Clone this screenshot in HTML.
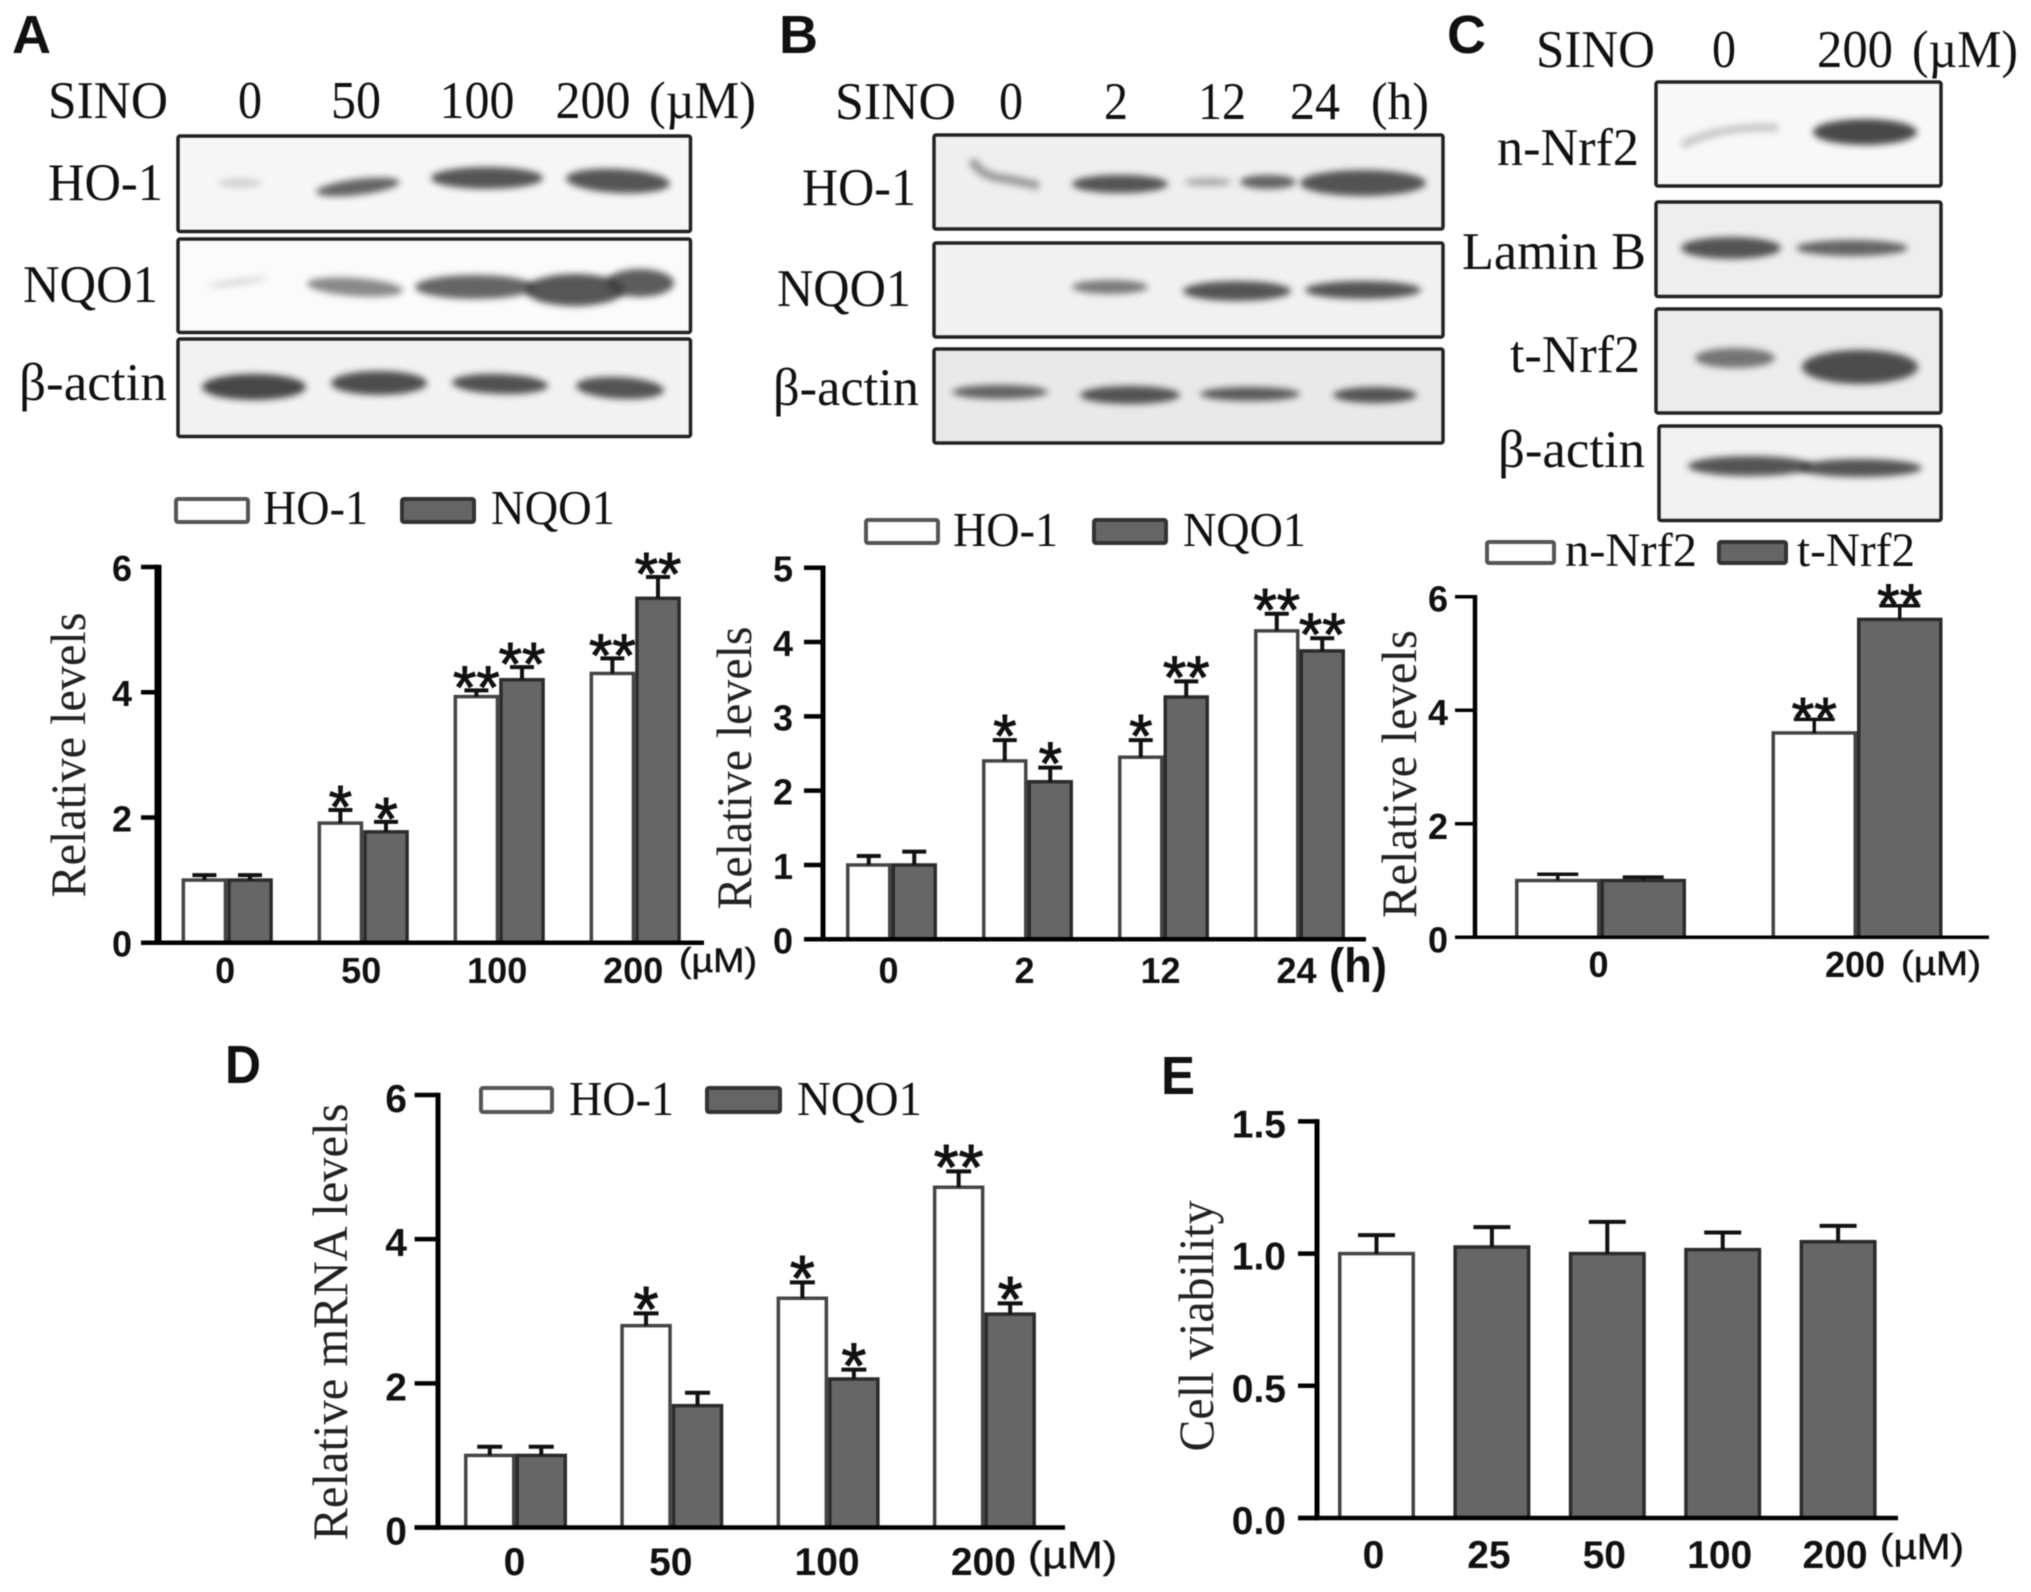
<!DOCTYPE html>
<html lang="en">
<head>
<meta charset="utf-8">
<title>SINO western blots and bar charts</title>
<style>
html,body{margin:0;padding:0;background:#fff}
#figure{display:block;width:2031px;height:1592px;filter:blur(.5px)}
.s{font-family:"Liberation Serif",serif;fill:#111}
.p{font-family:"Liberation Sans",sans-serif;font-weight:bold;font-size:54px;fill:#111}
.u{font-family:"Liberation Sans",sans-serif;fill:#111}
.box{stroke:#222;stroke-width:3.5}
.band{filter:url(#soft);opacity:.82}
</style>
</head>
<body>
<svg id="figure" xmlns="http://www.w3.org/2000/svg" width="2031" height="1592" viewBox="0 0 2031 1592">
<defs>
<filter id="soft" x="-40%" y="-80%" width="180%" height="260%"><feGaussianBlur stdDeviation="3.5"/></filter>
</defs>
<rect width="2031" height="1592" fill="#fff"/>

<!-- panel letters -->
<text class="p" x="12" y="53">A</text>
<text class="p" x="779" y="53">B</text>
<text class="p" x="1447" y="53">C</text>
<text class="p" x="225" y="1083" textLength="36" lengthAdjust="spacingAndGlyphs">D</text>
<text class="p" x="1161" y="1094" textLength="34" lengthAdjust="spacingAndGlyphs">E</text>

<!-- panel A blots -->
<g font-size="53">
<text class="s" x="48" y="118" textLength="120" lengthAdjust="spacingAndGlyphs">SINO</text>
<text class="s" x="250" y="118" text-anchor="middle" textLength="24" lengthAdjust="spacingAndGlyphs">0</text>
<text class="s" x="356" y="118" text-anchor="middle" textLength="50" lengthAdjust="spacingAndGlyphs">50</text>
<text class="s" x="477" y="118" text-anchor="middle" textLength="75" lengthAdjust="spacingAndGlyphs">100</text>
<text class="s" x="593" y="118" text-anchor="middle" textLength="75" lengthAdjust="spacingAndGlyphs">200</text>
<text class="s" x="649" y="118" textLength="107" lengthAdjust="spacingAndGlyphs">(µM)</text>
<text class="s" x="48" y="200" textLength="115" lengthAdjust="spacingAndGlyphs">HO-1</text>
<text class="s" x="23" y="302" textLength="135" lengthAdjust="spacingAndGlyphs">NQO1</text>
<text class="s" x="19" y="400" textLength="148" lengthAdjust="spacingAndGlyphs">β-actin</text>
</g>
<g>
<rect class="box" x="178" y="136" width="512.5" height="95.5" rx="2" fill="#f6f6f6"/>
<ellipse class="band" cx="240" cy="183" rx="22" ry="4" fill="#c4c4c4"/>
<ellipse class="band" cx="358" cy="187" rx="42" ry="8" fill="#444" transform="rotate(-7 358 187)"/>
<ellipse class="band" cx="487" cy="178" rx="56" ry="11" fill="#333"/>
<ellipse class="band" cx="618" cy="181" rx="52" ry="12" fill="#333" transform="rotate(3 618 181)"/>
</g>
<g>
<rect class="box" x="178" y="239" width="512.5" height="93.5" rx="2" fill="#fbfbfb"/>
<ellipse class="band" cx="238" cy="282" rx="30" ry="3" fill="#cfcfcf" transform="rotate(-8 238 282)"/>
<ellipse class="band" cx="355" cy="287" rx="48" ry="9" fill="#707070" transform="rotate(4 355 287)"/>
<ellipse class="band" cx="475" cy="287" rx="60" ry="12" fill="#444"/>
<ellipse class="band" cx="575" cy="290" rx="50" ry="16" fill="#333"/>
<ellipse class="band" cx="640" cy="283" rx="34" ry="14" fill="#3a3a3a"/>
</g>
<g>
<rect class="box" x="178" y="339" width="512.5" height="97.5" rx="2" fill="#f2f2f2"/>
<ellipse class="band" cx="254" cy="387" rx="52" ry="13" fill="#222"/>
<ellipse class="band" cx="379" cy="383" rx="48" ry="12" fill="#2a2a2a"/>
<ellipse class="band" cx="500" cy="384" rx="48" ry="10" fill="#2e2e2e" transform="rotate(2 500 384)"/>
<ellipse class="band" cx="620" cy="388" rx="44" ry="11" fill="#333" transform="rotate(3 620 388)"/>
</g>

<!-- panel B blots -->
<g font-size="53">
<text class="s" x="835" y="119" textLength="121" lengthAdjust="spacingAndGlyphs">SINO</text>
<text class="s" x="1011" y="119" text-anchor="middle" textLength="24" lengthAdjust="spacingAndGlyphs">0</text>
<text class="s" x="1116" y="119" text-anchor="middle" textLength="24" lengthAdjust="spacingAndGlyphs">2</text>
<text class="s" x="1222" y="119" text-anchor="middle" textLength="48" lengthAdjust="spacingAndGlyphs">12</text>
<text class="s" x="1315" y="119" text-anchor="middle" textLength="50" lengthAdjust="spacingAndGlyphs">24</text>
<text class="s" x="1371" y="119" textLength="58" lengthAdjust="spacingAndGlyphs">(h)</text>
<text class="s" x="802" y="205" textLength="114" lengthAdjust="spacingAndGlyphs">HO-1</text>
<text class="s" x="777" y="306" textLength="134" lengthAdjust="spacingAndGlyphs">NQO1</text>
<text class="s" x="773" y="405" textLength="146" lengthAdjust="spacingAndGlyphs">β-actin</text>
</g>
<g>
<rect class="box" x="934" y="135" width="509" height="94" rx="2" fill="#efefef"/>
<path class="band" d="M972 160 Q980 175 1000 178 T1039 186" fill="none" stroke="#888" stroke-width="9"/>
<ellipse class="band" cx="1120" cy="184" rx="48" ry="9" fill="#333"/>
<ellipse class="band" cx="1208" cy="182" rx="24" ry="4" fill="#999"/>
<ellipse class="band" cx="1268" cy="182" rx="28" ry="7" fill="#444"/>
<ellipse class="band" cx="1363" cy="183" rx="63" ry="13" fill="#333"/>
</g>
<g>
<rect class="box" x="934" y="243" width="509" height="94" rx="2" fill="#f1f1f1"/>
<ellipse class="band" cx="1110" cy="287" rx="38" ry="7" fill="#606060"/>
<ellipse class="band" cx="1237" cy="291" rx="54" ry="10" fill="#333"/>
<ellipse class="band" cx="1363" cy="290" rx="58" ry="9" fill="#333"/>
</g>
<g>
<rect class="box" x="934" y="349" width="509" height="94" rx="2" fill="#e9e9e9"/>
<ellipse class="band" cx="1000" cy="392" rx="48" ry="7" fill="#444"/>
<ellipse class="band" cx="1130" cy="395" rx="50" ry="9" fill="#333"/>
<ellipse class="band" cx="1250" cy="394" rx="50" ry="7" fill="#3a3a3a"/>
<ellipse class="band" cx="1375" cy="395" rx="42" ry="8" fill="#333"/>
</g>

<!-- panel C blots -->
<g font-size="53">
<text class="s" x="1536" y="67" textLength="119" lengthAdjust="spacingAndGlyphs">SINO</text>
<text class="s" x="1724" y="67" text-anchor="middle" textLength="24" lengthAdjust="spacingAndGlyphs">0</text>
<text class="s" x="1855" y="67" text-anchor="middle" textLength="76" lengthAdjust="spacingAndGlyphs">200</text>
<text class="s" x="1912" y="67" textLength="106" lengthAdjust="spacingAndGlyphs">(µM)</text>
<text class="s" x="1497" y="165" textLength="142" lengthAdjust="spacingAndGlyphs">n-Nrf2</text>
<text class="s" x="1462" y="269" textLength="184" lengthAdjust="spacingAndGlyphs">Lamin B</text>
<text class="s" x="1510" y="372" textLength="130" lengthAdjust="spacingAndGlyphs">t-Nrf2</text>
<text class="s" x="1498" y="467" textLength="147" lengthAdjust="spacingAndGlyphs">β-actin</text>
</g>
<g>
<rect class="box" x="1656" y="82" width="285" height="104" rx="2" fill="#f8f8f8"/>
<path class="band" d="M1682 145 Q1720 125 1778 128" fill="none" stroke="#bbb" stroke-width="8"/>
<ellipse class="band" cx="1865" cy="132" rx="52" ry="13" fill="#222"/>
</g>
<g>
<rect class="box" x="1656" y="202" width="285" height="94.5" rx="2" fill="#eee"/>
<ellipse class="band" cx="1731" cy="248" rx="50" ry="11" fill="#333"/>
<ellipse class="band" cx="1852" cy="248" rx="56" ry="8" fill="#444"/>
</g>
<g>
<rect class="box" x="1656" y="309" width="285" height="104" rx="2" fill="#ececec"/>
<ellipse class="band" cx="1735" cy="358" rx="40" ry="10" fill="#5a5a5a"/>
<ellipse class="band" cx="1860" cy="367" rx="58" ry="17" fill="#2a2a2a"/>
</g>
<g>
<rect class="box" x="1659" y="426" width="282" height="94.5" rx="2" fill="#f2f2f2"/>
<ellipse class="band" cx="1750" cy="466" rx="62" ry="10" fill="#333"/>
<ellipse class="band" cx="1860" cy="468" rx="62" ry="9" fill="#333"/>
</g>

<!-- legends -->
<g font-size="49">
<rect x="176" y="499" width="72" height="23" rx="2" fill="#fff" stroke="#555" stroke-width="4"/>
<text class="s" x="263" y="524" textLength="105" lengthAdjust="spacingAndGlyphs">HO-1</text>
<rect x="402" y="499" width="72" height="23" rx="2" fill="#666" stroke="#333" stroke-width="4"/>
<text class="s" x="491" y="524" textLength="124" lengthAdjust="spacingAndGlyphs">NQO1</text>
</g>
<g font-size="49">
<rect x="866" y="520" width="72" height="23" rx="2" fill="#fff" stroke="#555" stroke-width="4"/>
<text class="s" x="953" y="546" textLength="105" lengthAdjust="spacingAndGlyphs">HO-1</text>
<rect x="1094" y="520" width="72" height="23" rx="2" fill="#666" stroke="#333" stroke-width="4"/>
<text class="s" x="1183" y="546" textLength="123" lengthAdjust="spacingAndGlyphs">NQO1</text>
</g>
<g font-size="48">
<rect x="1487" y="542" width="67" height="21" rx="2" fill="#fff" stroke="#555" stroke-width="4"/>
<text class="s" x="1565" y="566" textLength="132" lengthAdjust="spacingAndGlyphs">n-Nrf2</text>
<rect x="1719" y="542" width="67" height="21" rx="2" fill="#666" stroke="#333" stroke-width="4"/>
<text class="s" x="1797" y="566" textLength="118" lengthAdjust="spacingAndGlyphs">t-Nrf2</text>
</g>
<g font-size="49">
<rect x="481" y="1088" width="71" height="24" rx="2" fill="#fff" stroke="#555" stroke-width="4"/>
<text class="s" x="569" y="1115" textLength="105" lengthAdjust="spacingAndGlyphs">HO-1</text>
<rect x="707" y="1088" width="73" height="24" rx="2" fill="#666" stroke="#333" stroke-width="4"/>
<text class="s" x="797" y="1115" textLength="125" lengthAdjust="spacingAndGlyphs">NQO1</text>
</g>

<!-- unit labels beside x axes -->
<text class="u" x="679" y="972" font-size="34" stroke="#111" stroke-width=".5" textLength="78" lengthAdjust="spacingAndGlyphs">(µM)</text>
<text class="u" x="1329" y="982" font-size="48" font-weight="bold" textLength="58" lengthAdjust="spacingAndGlyphs">(h)</text>
<text class="u" x="1901" y="975" font-size="34" stroke="#111" stroke-width=".5" textLength="80" lengthAdjust="spacingAndGlyphs">(µM)</text>
<text class="u" x="1028" y="1568" font-size="38" stroke="#111" stroke-width=".5" textLength="89" lengthAdjust="spacingAndGlyphs">(µM)</text>
<text class="u" x="1880" y="1559" font-size="36" stroke="#111" stroke-width=".5" textLength="84" lengthAdjust="spacingAndGlyphs">(µM)</text>

<g id="charts"></g>
</svg>

<script>
// Panel A
const aCategories = ['0', '50', '100', '200'];
const aHo1 = [1, 1.91, 3.93, 4.3];
const aHo1Err = [0.08, 0.21, 0.1, 0.24];
const aHo1Stars = ['', '*', '**', '**'];
const aNqo1 = [1, 1.77, 4.2, 5.5];
const aNqo1Err = [0.08, 0.16, 0.2, 0.34];
const aNqo1Stars = ['', '*', '**', '**'];
const aTicks = [0, 2, 4, 6];
// Panel B
const bCategories = ['0', '2', '12', '24'];
const bHo1 = [1, 2.4, 2.45, 4.15];
const bHo1Err = [0.12, 0.28, 0.23, 0.23];
const bHo1Stars = ['', '*', '*', '**'];
const bNqo1 = [1, 2.12, 3.26, 3.88];
const bNqo1Err = [0.18, 0.19, 0.21, 0.17];
const bNqo1Stars = ['', '*', '**', '**'];
const bTicks = [0, 1, 2, 3, 4, 5];
// Panel C
const cCategories = ['0', '200'];
const cNuclear = [1, 3.6];
const cNuclearErr = [0.11, 0.24];
const cNuclearStars = ['', '**'];
const cTotal = [1, 5.6];
const cTotalErr = [0.06, 0.24];
const cTotalStars = ['', '**'];
const cTicks = [0, 2, 4, 6];
// Panel D
const dCategories = ['0', '50', '100', '200'];
const dHo1 = [1, 2.8, 3.18, 4.72];
const dHo1Err = [0.12, 0.17, 0.22, 0.22];
const dHo1Stars = ['', '*', '*', '**'];
const dNqo1 = [1, 1.69, 2.06, 2.96];
const dNqo1Err = [0.12, 0.18, 0.13, 0.15];
const dNqo1Stars = ['', '', '*', '*'];
const dTicks = [0, 2, 4, 6];
// Panel E
const eCategories = ['0', '25', '50', '100', '200'];
const eViability = [1, 1.025, 1, 1.015, 1.045];
const eViabilityErr = [0.07, 0.075, 0.12, 0.065, 0.06];
const eTicks = ['0.0', '0.5', '1.0', '1.5'];

const SVGNS = 'http://www.w3.org/2000/svg';
const chartRoot = document.getElementById('charts');

function mk(tag, parent, attrs) {
  const n = document.createElementNS(SVGNS, tag);
  for (const k in attrs) n.setAttribute(k, attrs[k]);
  parent.appendChild(n);
  return n;
}

function drawChart(c) {
  const g = mk('g', chartRoot, {});
  
  
  const yScale = v => c.y0 - (v / c.yMax) * (c.y0 - c.yTop);
  const xScale = (i, j) => c.barStart + i * c.step + j * c.barW;
  const groupCenter = i => xScale(i, c.series.length / 2);

  c.series.forEach((s, j) => {
    s.values.forEach((v, i) => {
      const fill = s.fillFor ? s.fillFor(i) : s.fill;
      const stroke = fill === '#fff' ? '#444' : '#2b2b2b';
      const bar = mk('rect', g, {
        x: xScale(i, j) + 1.75,
        y: yScale(v),
        width: c.barW - 3.5,
        height: c.y0 - yScale(v),
        fill: fill,
        stroke: stroke,
        'stroke-width': 3.5
      });
      
      

      const cx = xScale(i, j) + c.barW / 2;
      const top = yScale(v + s.errs[i]);
      const eb = mk('path', g, {
        d: 'M' + cx + ' ' + yScale(v) + 'V' + top + 'M' + (cx - c.capW / 2) + ' ' + top + 'H' + (cx + c.capW / 2),
        fill: 'none',
        stroke: '#111',
        'stroke-width': c.errW
      });
      
      

      const star = s.stars ? s.stars[i] : '';
      if (star) {
        const t = mk('text', g, {
          x: cx,
          y: top - c.starGap + c.starSize * 0.575,
          'text-anchor': 'middle',
          'font-family': '"Liberation Sans",sans-serif',
          'font-size': c.starSize,
          stroke: '#111',
          'stroke-width': 1,
          fill: '#111'
        });
        
        
        t.textContent = star;
      }
    });
  });

  // axes
  const yAxis = mk('line', g, {
    x1: c.axisX, x2: c.axisX,
    y1: c.yTop - c.axisH / 2, y2: c.y0 + c.axisH / 2,
    stroke: '#000', 'stroke-width': c.axisW
  });
  
  
  const xAxis = mk('line', g, {
    x1: c.tickX, x2: c.xEnd,
    y1: c.y0, y2: c.y0,
    stroke: '#000', 'stroke-width': c.axisH
  });
  
  

  c.ticks.forEach(tv => {
    const v = parseFloat(tv);
    const tick = mk('line', g, {
      x1: c.tickX, x2: c.axisX,
      y1: yScale(v), y2: yScale(v),
      stroke: '#000', 'stroke-width': c.axisH
    });
    
    
    const lab = mk('text', g, {
      x: c.tickLabelX,
      y: yScale(v) + c.tickLabelDy,
      'text-anchor': 'end',
      'font-family': '"Liberation Sans",sans-serif',
      'font-weight': 'bold',
      'font-size': c.labelSize,
      fill: '#111'
    });
    
    
    lab.textContent = tv;
  });

  c.categories.forEach((cat, i) => {
    const lab = mk('text', g, {
      x: groupCenter(i) + c.xLabelDx,
      y: c.xLabelY,
      'text-anchor': 'middle',
      'font-family': '"Liberation Sans",sans-serif',
      'font-weight': 'bold',
      'font-size': c.labelSize,
      fill: '#111'
    });
    
    
    lab.textContent = cat;
  });

  const title = mk('text', g, {
    transform: 'translate(' + c.titleX + ' ' + c.titleY + ') rotate(-90)',
    'text-anchor': 'middle',
    'font-family': '"Liberation Serif",serif',
    'font-size': 50,
    textLength: c.titleLen,
    lengthAdjust: 'spacingAndGlyphs',
    fill: '#222'
  });
  
  
  title.textContent = c.title;
}

drawChart({
  id: 'a', categories: aCategories, ticks: aTicks, yMax: 6, y0: 942.7, yTop: 567,
  barStart: 181.6, barW: 45.6, step: 136, capW: 24, errW: 4, starSize: 60, starGap: 17,
  axisX: 158, axisW: 7, axisH: 4.5, tickX: 141, xEnd: 704,
  tickLabelX: 132, tickLabelDy: 14, xLabelY: 983, xLabelDx: -2, labelSize: 36,
  title: 'Relative levels', titleX: 85, titleY: 755, titleLen: 285,
  series: [
    { key: 'ho1', values: aHo1, errs: aHo1Err, stars: aHo1Stars, fill: '#fff' },
    { key: 'nqo1', values: aNqo1, errs: aNqo1Err, stars: aNqo1Stars, fill: '#666' }
  ]
});
drawChart({
  id: 'b', categories: bCategories, ticks: bTicks, yMax: 5, y0: 939.3, yTop: 567.7,
  barStart: 846, barW: 45.5, step: 136, capW: 24, errW: 4, starSize: 60, starGap: 18,
  axisX: 823, axisW: 5, axisH: 4.5, tickX: 804, xEnd: 1366,
  tickLabelX: 793, tickLabelDy: 14, xLabelY: 983, xLabelDx: -3, labelSize: 36,
  title: 'Relative levels', titleX: 751, titleY: 768, titleLen: 283,
  series: [
    { key: 'ho1', values: bHo1, errs: bHo1Err, stars: bHo1Stars, fill: '#fff' },
    { key: 'nqo1', values: bNqo1, errs: bNqo1Err, stars: bNqo1Stars, fill: '#666' }
  ]
});
drawChart({
  id: 'c', categories: cCategories, ticks: cTicks, yMax: 6, y0: 937.3, yTop: 596.7,
  barStart: 1515, barW: 85.5, step: 256.5, capW: 41, errW: 3.5, starSize: 58, starGap: 14,
  axisX: 1475, axisW: 4.5, axisH: 3.5, tickX: 1455, xEnd: 1989,
  tickLabelX: 1448, tickLabelDy: 15, xLabelY: 977, xLabelDx: -2, labelSize: 36,
  title: 'Relative levels', titleX: 1416, titleY: 774, titleLen: 288,
  series: [
    { key: 'nuclear-nrf2', values: cNuclear, errs: cNuclearErr, stars: cNuclearStars, fill: '#fff' },
    { key: 'total-nrf2', values: cTotal, errs: cTotalErr, stars: cTotalStars, fill: '#666' }
  ]
});
drawChart({
  id: 'd', categories: dCategories, ticks: dTicks, yMax: 6, y0: 1527.5, yTop: 1095,
  barStart: 464, barW: 51.5, step: 156.3, capW: 25, errW: 4, starSize: 64, starGap: 19,
  axisX: 438, axisW: 5, axisH: 4.5, tickX: 414.6, xEnd: 1065,
  tickLabelX: 407, tickLabelDy: 17, xLabelY: 1575, xLabelDx: -1, labelSize: 39,
  title: 'Relative mRNA levels', titleX: 347, titleY: 1322, titleLen: 437,
  series: [
    { key: 'ho1', values: dHo1, errs: dHo1Err, stars: dHo1Stars, fill: '#fff' },
    { key: 'nqo1', values: dNqo1, errs: dNqo1Err, stars: dNqo1Stars, fill: '#666' }
  ]
});
drawChart({
  id: 'e', categories: eCategories, ticks: eTicks, yMax: 1.5, y0: 1518, yTop: 1121.4,
  barStart: 1338, barW: 77, step: 115.4, capW: 37, errW: 4, starSize: 58, starGap: 18,
  axisX: 1317, axisW: 5, axisH: 4.5, tickX: 1298, xEnd: 1898,
  tickLabelX: 1286, tickLabelDy: 16, xLabelY: 1568, xLabelDx: -3, labelSize: 39,
  title: 'Cell viability', titleX: 1213, titleY: 1326, titleLen: 251,
  series: [
    { key: 'viability', values: eViability, errs: eViabilityErr, fillFor: i => (i === 0 ? '#fff' : '#666') }
  ]
});
</script>
</body>
</html>
